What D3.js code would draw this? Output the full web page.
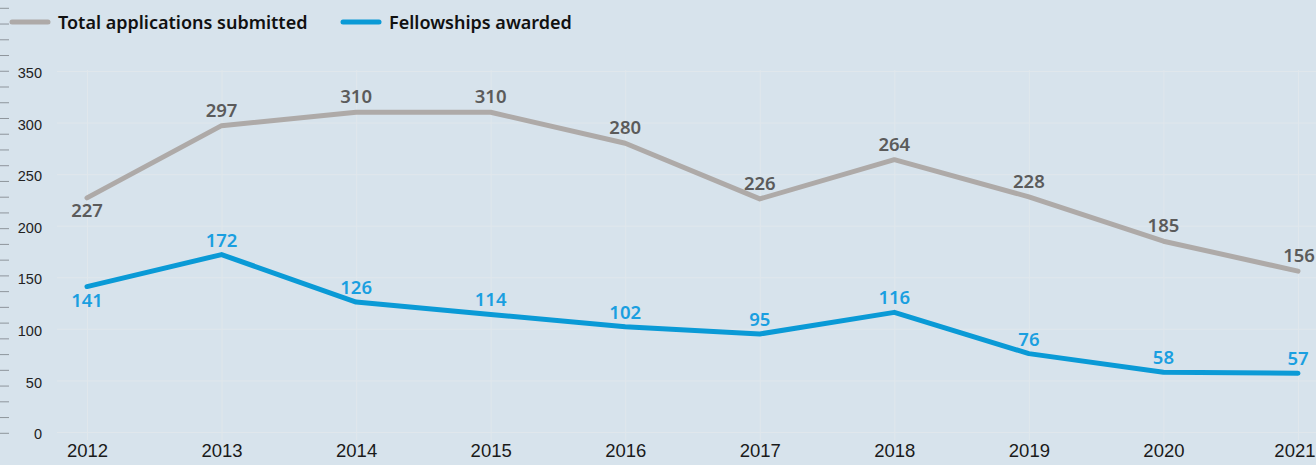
<!DOCTYPE html>
<html>
<head>
<meta charset="utf-8">
<script src="https://cdn.jsdelivr.net/npm/d3@7"></script>
<style>
  body { margin: 0; background: #d7e3ec; }
  svg { display: block; font-family: "Noto Sans", "Open Sans", sans-serif; }
  .grid line { stroke: #e0e7ec; stroke-width: 1; }
  .grid path { display: none; }
  .yaxis text { font-size: 14.5px; fill: #222; }
  .xaxis text { font-size: 18.5px; fill: #1a1a1a; }
  .legend text { font-size: 18px; font-weight: 600; fill: #111; }
  .val { font-size: 18.5px; font-weight: 600; }
</style>
</head>
<body>
<svg id="chart" width="1316" height="465"></svg>
<script>
var years = [2012, 2013, 2014, 2015, 2016, 2017, 2018, 2019, 2020, 2021];
var applications = [227, 297, 310, 310, 280, 226, 264, 228, 185, 156];
var fellowships = [141, 172, 126, 114, 102, 95, 116, 76, 58, 57];
var yTicks = [0, 50, 100, 150, 200, 250, 300, 350];
var seriesNames = ["Total applications submitted", "Fellowships awarded"];

var grey = "#aeaaa8", blue = "#0a9ad6";
var greyText = "#5b5b5b", blueText = "#1a9fe0";

var width = 1316, height = 465;
var svg = d3.select("#chart");

// scales
var xScale = d3.scalePoint()
  .domain(years)
  .range([87, 1298]);

var yScale = d3.scaleLinear()
  .domain([0, 350])
  .range([432, 71]);

// little ruler on the far left
var rulerScale = d3.scaleLinear().domain([0, 27]).range([8.3, 433.3]);
svg.append("g")
  .selectAll("line")
  .data(d3.range(28))
  .enter()
  .append("line")
  .attr("x1", 0)
  .attr("x2", 9)
  .attr("y1", function(d) { return rulerScale(d); })
  .attr("y2", function(d) { return rulerScale(d); })
  .attr("stroke", "#8e959c")
  .attr("stroke-width", 1);

// grid
svg.append("g")
  .attr("class", "grid")
  .attr("transform", "translate(57,0)")
  .call(d3.axisLeft(yScale).tickValues(yTicks).tickSize(-(width - 57)).tickFormat(""));

svg.append("g")
  .attr("class", "grid")
  .attr("transform", "translate(0,440)")
  .call(d3.axisBottom(xScale).tickSize(-370).tickFormat(""));

// y axis labels
var yAxis = svg.append("g")
  .attr("class", "yaxis")
  .attr("transform", "translate(42,2)")
  .call(d3.axisLeft(yScale).tickValues(yTicks).tickSize(0).tickPadding(0));
yAxis.select(".domain").remove();

// x axis labels
var xAxis = svg.append("g")
  .attr("class", "xaxis")
  .attr("transform", "translate(0,442)")
  .call(d3.axisBottom(xScale).tickSize(0).tickPadding(2).tickFormat(d3.format("d")));
xAxis.select(".domain").remove();
// last year label sits against the right edge
xAxis.selectAll(".tick text")
  .filter(function(d) { return d == years[years.length - 1]; })
  .attr("text-anchor", "end")
  .attr("x", 17);

var line = d3.line()
  .x(function(d, i) { return xScale(years[i]); })
  .y(function(d) { return yScale(d); });

svg.append("path")
  .datum(applications)
  .attr("fill", "none")
  .attr("stroke", grey)
  .attr("stroke-width", 5)
  .attr("stroke-linejoin", "round")
  .attr("stroke-linecap", "round")
  .attr("d", line);

svg.append("path")
  .datum(fellowships)
  .attr("fill", "none")
  .attr("stroke", blue)
  .attr("stroke-width", 5)
  .attr("stroke-linejoin", "round")
  .attr("stroke-linecap", "round")
  .attr("d", line);

// value labels (first point of each goes below the line)
svg.append("g")
  .selectAll("text")
  .data(applications)
  .enter()
  .append("text")
  .attr("class", "val")
  .attr("fill", greyText)
  .attr("text-anchor", "middle")
  .attr("x", function(d, i) { return xScale(years[i]) + (i == years.length - 1 ? 1 : 0); })
  .attr("y", function(d, i) { return yScale(d) + (i == 0 ? 19 : -9); })
  .text(function(d) { return d; });

svg.append("g")
  .selectAll("text")
  .data(fellowships)
  .enter()
  .append("text")
  .attr("class", "val")
  .attr("fill", blueText)
  .attr("text-anchor", "middle")
  .attr("x", function(d, i) { return xScale(years[i]); })
  .attr("y", function(d, i) { return yScale(d) + (i == 0 ? 20 : -8); })
  .text(function(d) { return d; });

// legend
var legend = svg.append("g").attr("class", "legend");
var legendX = [10, 341];
var legendColors = [grey, blue];
seriesNames.forEach(function(name, i) {
  legend.append("line")
    .attr("x1", legendX[i] + 2)
    .attr("x2", legendX[i] + 38)
    .attr("y1", 22)
    .attr("y2", 22)
    .attr("stroke", legendColors[i])
    .attr("stroke-width", 5)
    .attr("stroke-linecap", "round");
  legend.append("text")
    .attr("x", legendX[i] + 48)
    .attr("y", 29)
    .text(name);
});
</script>
</body>
</html>
